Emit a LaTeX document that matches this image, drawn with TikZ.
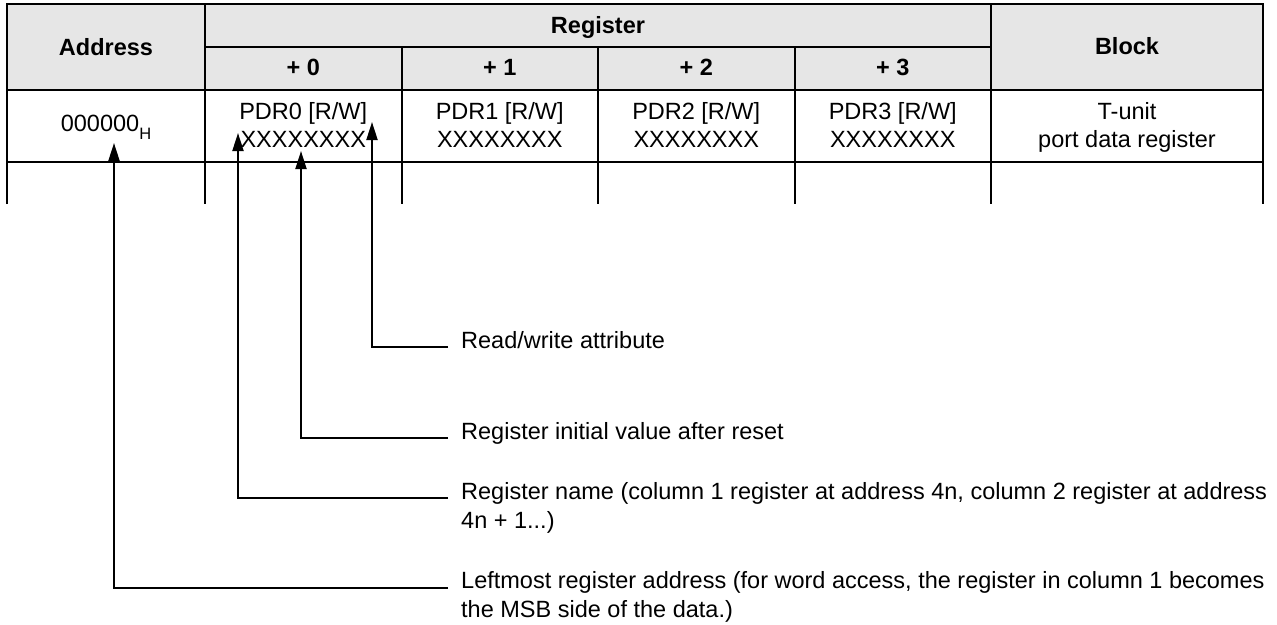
\documentclass[tikz,border=0pt]{standalone}
\usepackage{fontspec}
\setmainfont{Liberation Sans}
\usetikzlibrary{arrows.meta}
\definecolor{hdrgray}{RGB}{230,230,230}
\begin{document}
\begin{tikzpicture}[x=1pt,y=-1pt,
  tline/.style={line width=2pt},
  callout/.style={line width=2pt,-{Triangle[length=18pt,width=11pt]}},
  hdr/.style={font=\fontsize{23.5}{28}\selectfont\bfseries, inner sep=0pt, anchor=base},
  cell/.style={font=\fontsize{23.5}{28}\selectfont, inner sep=0pt, align=center, anchor=north},
  note/.style={font=\fontsize{23.5}{29}\selectfont, inner sep=0pt, align=left, anchor=north west}]
\useasboundingbox (0,0) rectangle (1277,624);
% header background
\fill[hdrgray] (7,4) rectangle (1263,89.5);
% table lines
\draw[tline] (7,204) -- (7,4) -- (1263,4) -- (1263,204);
\draw[tline] (205,4) -- (205,204);
\draw[tline] (991,4) -- (991,204);
\draw[tline] (205,47) -- (991,47);
\draw[tline] (401.5,47) -- (401.5,204);
\draw[tline] (598,47) -- (598,204);
\draw[tline] (794.5,47) -- (794.5,204);
\draw[tline] (7,89.5) -- (1263,89.5);
\draw[tline] (7,162) -- (1263,162);
% header texts
\node[hdr] (hAddr) at (106,55) {Address};
\node[hdr] (hReg) at (598,33) {Register};
\node[hdr] (hP0) at (303.25,75) {+ 0};
\node[hdr] (hP1) at (499.75,75) {+ 1};
\node[hdr] (hP2) at (696.25,75) {+ 2};
\node[hdr] (hP3) at (892.75,75) {+ 3};
\node[hdr] (hBlk) at (1127,54) {Block};
% row texts
\node[font=\fontsize{23.5}{28}\selectfont, inner sep=0pt, anchor=base] (addr) at (106,131.5)
  {000000\raisebox{-7.5pt}{\fontsize{16.5}{16.5}\selectfont H}};
\node[cell] (pdr0) at (303.25,99.4) {\strut PDR0 [R/W]\\XXXXXXXX};
\node[cell] (pdr1) at (499.75,99.4) {\strut PDR1 [R/W]\\XXXXXXXX};
\node[cell] (pdr2) at (696.25,99.4) {\strut PDR2 [R/W]\\XXXXXXXX};
\node[cell] (pdr3) at (892.75,99.4) {\strut PDR3 [R/W]\\XXXXXXXX};
\node[cell] (blk) at (1127,99.4) {\strut T-unit\\port data register};
% notes
\node[note] (nRW) at (461,327.7) {\strut Read/write attribute};
\node[note] (nInit) at (461,418.7) {\strut Register initial value after reset};
\node[note] (nName) at (461,478.7) {\strut Register name (column 1 register at address 4n, column 2 register at address\\4n + 1...)};
\node[note] (nLeft) at (461,567.7) {\strut Leftmost register address (for word access, the register in column 1 becomes\\the MSB side of the data.)};
% arrow tips and line starts
\coordinate (tRW) at (372,122);
\coordinate (tInit) at (301,151);
\coordinate (tName) at (238,133);
\coordinate (tAddr) at (114,143);
\coordinate (sRW) at (448,347);
\coordinate (sInit) at (448,438);
\coordinate (sName) at (448,498);
\coordinate (sAddr) at (448,588);
\draw[callout] (sRW) -| (tRW);
\draw[callout] (sInit) -| (tInit);
\draw[callout] (sName) -| (tName);
\draw[callout] (sAddr) -| (tAddr);
\end{tikzpicture}
\end{document}
